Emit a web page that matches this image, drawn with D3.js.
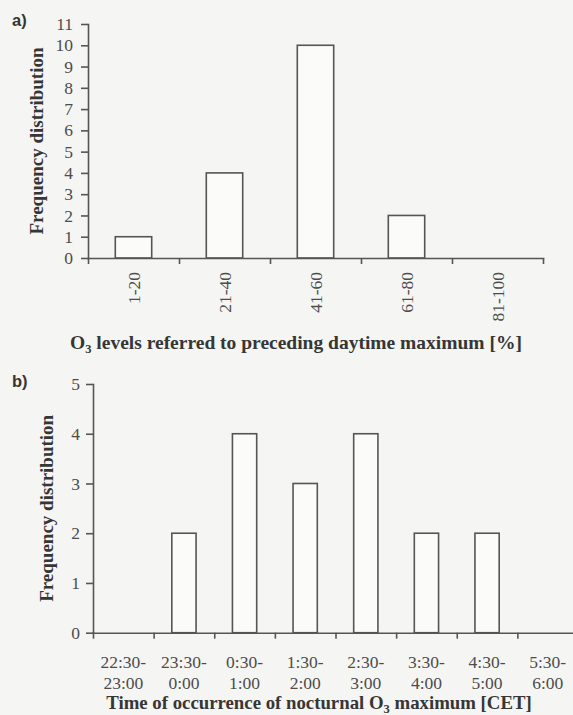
<!DOCTYPE html>
<html>
<head>
<meta charset="utf-8">
<script src="https://cdn.jsdelivr.net/npm/d3@7"></script>
<style>
  html, body { margin: 0; padding: 0; background: #f5f5f3; }
  svg { display: block; }
  .tick text { font-family: "Liberation Serif", "Times New Roman", serif; fill: #4c4c4c; }
  .title { font-family: "Liberation Serif", "Times New Roman", serif; font-weight: bold; fill: #363636; }
  .panel { font-family: "Liberation Sans", Arial, sans-serif; font-weight: bold; fill: #363636; }
</style>
</head>
<body>
<svg id="chart" width="573" height="715"></svg>
<script>
// Panel a: O3 level classes and their frequencies
const levelBins = ["1-20", "21-40", "41-60", "61-80", "81-100"];
const levelCounts = [1, 4, 10, 2, 0];
const levelTicks = [0, 1, 2, 3, 4, 5, 6, 7, 8, 9, 10, 11];

// Panel b: time windows of the nocturnal maximum and their frequencies
const timeStarts = ["22:30-", "23:30-", "0:30-", "1:30-", "2:30-", "3:30-", "4:30-", "5:30-"];
const timeEnds = ["23:00", "0:00", "1:00", "2:00", "3:00", "4:00", "5:00", "6:00"];
const timeCounts = [0, 2, 4, 3, 4, 2, 2, 0];
const timeTicks = [0, 1, 2, 3, 4, 5];

const svg = d3.select("#chart");
const lineColor = "#555";
const barFill = "#fbfbfa";

function styleAxis(g) {
  g.selectAll("path, line").attr("stroke", lineColor).attr("stroke-width", 1.6);
  g.select(".domain").attr("stroke-linecap", "square");
}

function drawPanel(cfg) {
  const n = cfg.counts.length;
  const x = d3.scaleLinear().domain([0, n]).range([cfg.left, cfg.right]);
  const y = d3.scaleLinear().domain([0, d3.max(cfg.yTicks)]).range([cfg.bottom, cfg.top]);
  const g = svg.append("g");

  // bars, each 40% of its class width, centred in the class
  g.selectAll("rect.bar")
    .data(cfg.counts.map((v, i) => ({ v, i })).filter(d => d.v > 0))
    .join("rect")
    .attr("class", "bar")
    .attr("x", d => x(d.i + 0.3))
    .attr("width", d => x(d.i + 0.7) - x(d.i + 0.3))
    .attr("y", d => y(d.v))
    .attr("height", d => y(0) - y(d.v))
    .attr("fill", barFill)
    .attr("stroke", lineColor)
    .attr("stroke-width", 1.6);

  // y axis
  const yAxis = g.append("g")
    .attr("transform", `translate(${cfg.left},0)`)
    .call(d3.axisLeft(y).tickValues(cfg.yTicks).tickFormat(d3.format("d"))
      .tickSize(7).tickSizeOuter(0).tickPadding(cfg.yPad));
  yAxis.selectAll(".tick text").attr("font-size", 17.5);
  styleAxis(yAxis);

  // x axis with ticks at the class boundaries
  const xAxis = g.append("g")
    .attr("transform", `translate(0,${cfg.bottom})`)
    .call(d3.axisBottom(x).tickValues(d3.range(n + 1)).tickFormat("")
      .tickSize(6).tickSizeOuter(0));
  styleAxis(xAxis);

  cfg.labels(g, x);

  // axis titles
  g.append("text").attr("class", "title")
    .attr("transform", `translate(${cfg.yTitleX},${(cfg.top + cfg.bottom) / 2}) rotate(-90)`)
    .attr("text-anchor", "middle").attr("font-size", 19)
    .text("Frequency distribution");

  const xt = g.append("text").attr("class", "title")
    .attr("x", cfg.xTitleX).attr("y", cfg.xTitleY)
    .attr("text-anchor", "middle").attr("font-size", cfg.xTitleSize);
  cfg.xTitle(xt);

  g.append("text").attr("class", "panel")
    .attr("x", 12).attr("y", cfg.panelY).attr("font-size", 16.5)
    .text(cfg.panel);
}

drawPanel({
  counts: levelCounts, yTicks: levelTicks,
  left: 88, right: 543, top: 24, bottom: 258, yPad: 8,
  yTitleX: 43, xTitleX: 296, xTitleY: 349, xTitleSize: 19.5, panelY: 26, panel: "a)",
  labels: (g, x) => {
    g.selectAll("text.cls").data(levelBins).join("text")
      .attr("class", "cls")
      .attr("transform", (d, i) => `translate(${x(i + 0.5)},272) rotate(-90)`)
      .attr("text-anchor", "end").attr("dy", "0.35em")
      .attr("font-family", "Liberation Serif, Times New Roman, serif")
      .attr("font-size", 17.5).attr("fill", "#4c4c4c")
      .text(d => d);
  },
  xTitle: t => {
    t.append("tspan").text("O");
    t.append("tspan").attr("font-size", 12.5).attr("dy", 4).text("3");
    t.append("tspan").attr("dy", -4).text(" levels referred to preceding daytime maximum [%]");
  }
});

drawPanel({
  counts: timeCounts, yTicks: timeTicks,
  left: 93, right: 578, top: 384, bottom: 632.7, yPad: 6,
  yTitleX: 53, xTitleX: 319, xTitleY: 709, xTitleSize: 18.8, panelY: 387, panel: "b)",
  labels: (g, x) => {
    const t = g.selectAll("text.cls").data(timeStarts).join("text")
      .attr("class", "cls")
      .attr("text-anchor", "middle")
      .attr("font-family", "Liberation Serif, Times New Roman, serif")
      .attr("font-size", 17.5).attr("fill", "#4c4c4c");
    t.append("tspan").attr("x", (d, i) => x(i + 0.5)).attr("y", 668).text(d => d);
    t.append("tspan").attr("x", (d, i) => x(i + 0.5)).attr("y", 689).text((d, i) => timeEnds[i]);
  },
  xTitle: t => {
    t.append("tspan").text("Time of occurrence of nocturnal O");
    t.append("tspan").attr("font-size", 12.5).attr("dy", 4).text("3");
    t.append("tspan").attr("dy", -4).text(" maximum [CET]");
  }
});
</script>
</body>
</html>
